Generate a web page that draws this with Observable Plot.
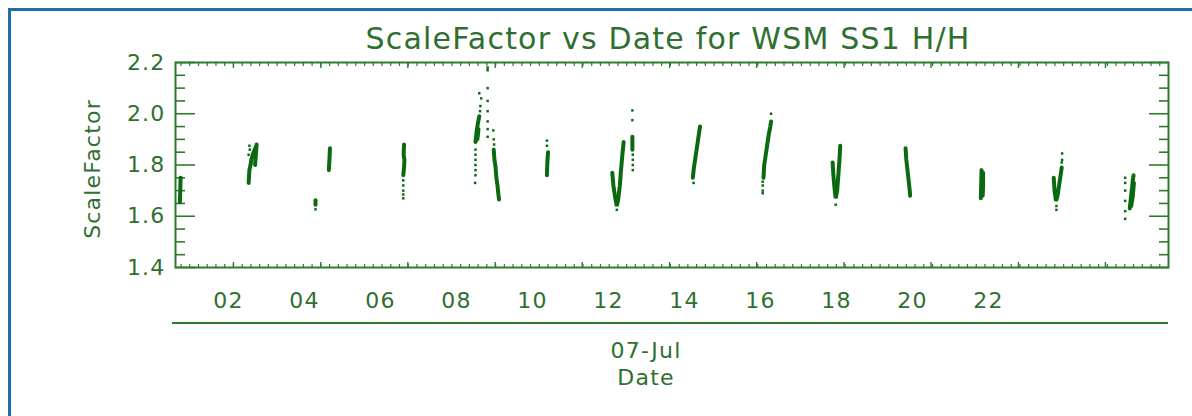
<!DOCTYPE html>
<html>
<head>
<meta charset="utf-8">
<script src="https://cdn.jsdelivr.net/npm/d3@7"></script>
<script src="https://cdn.jsdelivr.net/npm/@observablehq/plot@0.6"></script>
<style>
  html, body { margin: 0; padding: 0; background: #fff; }
  #wrap { position: relative; width: 1192px; height: 416px; overflow: hidden; }
  #wrap svg { position: absolute; left: 0; top: 0; }
  #border { position: absolute; left: 8px; top: 8px; right: -10px; bottom: -10px;
            border-top: 3px solid #1f6ea8; border-left: 3px solid #1f6ea8; pointer-events: none; }
</style>
</head>
<body>
<div id="wrap"><div id="border"></div></div>
<script>
// ---- Data (hours of 07-Jul, ScaleFactor) ----
const title = "ScaleFactor vs Date for WSM SS1 H/H";
const yTitle = "ScaleFactor";
const xDateLabel = "07-Jul";
const xTitle = "Date";

// dense streaks of each pass: [pass, hour, scale factor]
const streakPoints = [
  ["A", 0.72, 1.655], ["A", 0.73, 1.70], ["A", 0.74, 1.75],
  ["B1", 2.53, 1.73], ["B1", 2.55, 1.78], ["B1", 2.58, 1.80], ["B1", 2.60, 1.82], ["B1", 2.66, 1.85], ["B1", 2.72, 1.87],
  ["B2", 2.70, 1.80], ["B2", 2.73, 1.86], ["B2", 2.74, 1.88],
  ["C1", 4.64, 1.78], ["C1", 4.66, 1.83], ["C1", 4.67, 1.865],
  ["C2", 4.29, 1.645], ["C2", 4.29, 1.662],
  ["D", 6.60, 1.76], ["D", 6.62, 1.79], ["D", 6.63, 1.82], ["D", 6.61, 1.84], ["D", 6.62, 1.88],
  ["E", 8.50, 1.89], ["E", 8.53, 1.93], ["E", 8.56, 1.96], ["E", 8.60, 1.99],
  ["E2", 8.55, 1.90], ["E2", 8.58, 1.94],
  ["F", 8.98, 1.86], ["F", 9.00, 1.82], ["F", 9.03, 1.79], ["F", 9.05, 1.75], ["F", 9.08, 1.72], ["F", 9.10, 1.69], ["F", 9.12, 1.665],
  ["G", 10.38, 1.76], ["G", 10.39, 1.80], ["G", 10.40, 1.83], ["G", 10.41, 1.85],
  ["H", 12.10, 1.77], ["H", 12.13, 1.72], ["H", 12.18, 1.67], ["H", 12.22, 1.64], ["H", 12.26, 1.67], ["H", 12.30, 1.72], ["H", 12.33, 1.78], ["H", 12.36, 1.83], ["H", 12.40, 1.89],
  ["H2", 12.63, 1.86], ["H2", 12.63, 1.91],
  ["I", 14.22, 1.75], ["I", 14.25, 1.79], ["I", 14.30, 1.84], ["I", 14.34, 1.88], ["I", 14.38, 1.92], ["I", 14.41, 1.95],
  ["J", 16.08, 1.75], ["J", 16.10, 1.80], ["J", 16.14, 1.84], ["J", 16.18, 1.88], ["J", 16.22, 1.92], ["J", 16.26, 1.95], ["J", 16.28, 1.97],
  ["K", 17.90, 1.81], ["K", 17.92, 1.76], ["K", 17.95, 1.71], ["K", 17.98, 1.67], ["K", 18.02, 1.70], ["K", 18.05, 1.76], ["K", 18.08, 1.82], ["K", 18.10, 1.875],
  ["L", 19.82, 1.865], ["L", 19.84, 1.82], ["L", 19.87, 1.78], ["L", 19.90, 1.74], ["L", 19.93, 1.70], ["L", 19.94, 1.68],
  ["M1", 21.80, 1.67], ["M1", 21.81, 1.72], ["M1", 21.82, 1.78],
  ["M2", 21.85, 1.68], ["M2", 21.86, 1.72], ["M2", 21.86, 1.77],
  ["N", 23.72, 1.75], ["N", 23.74, 1.70], ["N", 23.78, 1.66], ["N", 23.82, 1.68], ["N", 23.86, 1.72], ["N", 23.90, 1.76], ["N", 23.93, 1.79],
  ["O1", 25.72, 1.63], ["O1", 25.75, 1.67], ["O1", 25.78, 1.71], ["O1", 25.80, 1.74], ["O1", 25.82, 1.76],
  ["O2", 25.76, 1.64], ["O2", 25.80, 1.68], ["O2", 25.83, 1.73]
];

// scattered single samples: [hour, scale factor]
const dotPoints = [
  [2.55, 1.875], [2.56, 1.86], [2.53, 1.84],
  [4.29, 1.627],
  [6.60, 1.74], [6.60, 1.72], [6.60, 1.70], [6.60, 1.685], [6.60, 1.67],
  [8.50, 1.86], [8.50, 1.84], [8.50, 1.82], [8.50, 1.80], [8.50, 1.78], [8.50, 1.76], [8.49, 1.73],
  [8.60, 2.08], [8.65, 2.06], [8.62, 2.01], [8.63, 2.03],
  [8.82, 2.17], [8.82, 2.18], [8.82, 2.10], [8.82, 2.05], [8.82, 2.01], [8.82, 1.97], [8.82, 1.94], [8.82, 1.91],
  [8.97, 1.935], [8.98, 1.90], [8.99, 1.88],
  [10.38, 1.875], [10.38, 1.895],
  [12.22, 1.625],
  [12.63, 2.013], [12.63, 1.975], [12.64, 1.84], [12.64, 1.82], [12.64, 1.80], [12.64, 1.78],
  [14.24, 1.73],
  [16.28, 2.00], [16.06, 1.735], [16.06, 1.72], [16.06, 1.70], [16.06, 1.69],
  [17.98, 1.645],
  [23.94, 1.845], [23.94, 1.82], [23.93, 1.81], [23.79, 1.625], [23.79, 1.64],
  [25.60, 1.59], [25.60, 1.62], [25.60, 1.66], [25.60, 1.70], [25.60, 1.73], [25.60, 1.75]
];

// axis ticks
const yMajor = [1.4, 1.6, 1.8, 2.0, 2.2];
const yMinor = [1.45, 1.5, 1.55, 1.65, 1.7, 1.75, 1.85, 1.9, 1.95, 2.05, 2.1, 2.15];
const xFrameMajor = [2.13, 4.43, 6.72, 9.02, 11.31, 13.61, 15.90, 18.20, 20.49, 22.79, 25.08];
const xLabelTicks = [2, 4, 6, 8, 10, 12, 14, 16, 18, 20, 22];
const xDomain = [0.605, 26.74];
const yDomain = [1.4, 2.2];

// ---- Drawing ----
const frameColor = "#2e7b2e";
const textColor = "#2f6f2f";
const dataColor = "#0b6a10";
const step = (xFrameMajor[1] - xFrameMajor[0]) / 10;
const xFrameMinor = d3.range(-30, 120).map(i => xFrameMajor[0] + i * step)
  .filter(h => h > xDomain[0] && h < xDomain[1]);
const blank = () => "";

const plot = Plot.plot({
  width: 1192,
  height: 416,
  marginLeft: 175,
  marginRight: 24,
  marginTop: 62,
  marginBottom: 149,
  style: { fontFamily: "DejaVu Sans", background: "transparent" },
  x: { domain: xDomain },
  y: { domain: yDomain },
  marks: [
    // frame ticks (inward)
    Plot.axisY(yMajor, { anchor: "left", tickSize: -20, tickFormat: blank, label: null, color: frameColor, strokeWidth: 1.6 }),
    Plot.axisY(yMinor, { anchor: "left", tickSize: -10, tickFormat: blank, label: null, color: frameColor, strokeWidth: 1.6 }),
    Plot.axisY(yMajor, { anchor: "right", tickSize: -20, tickFormat: blank, label: null, color: frameColor, strokeWidth: 1.6 }),
    Plot.axisY(yMinor, { anchor: "right", tickSize: -10, tickFormat: blank, label: null, color: frameColor, strokeWidth: 1.6 }),
    Plot.axisX(xFrameMajor, { anchor: "bottom", tickSize: -5, tickFormat: blank, label: null, color: frameColor, strokeWidth: 1.4 }),
    Plot.axisX(xFrameMinor, { anchor: "bottom", tickSize: -3, tickFormat: blank, label: null, color: frameColor, strokeWidth: 1.2 }),
    Plot.axisX(xFrameMajor, { anchor: "top", tickSize: -5, tickFormat: blank, label: null, color: frameColor, strokeWidth: 1.4 }),
    Plot.axisX(xFrameMinor, { anchor: "top", tickSize: -3, tickFormat: blank, label: null, color: frameColor, strokeWidth: 1.2 }),
    // tick labels
    Plot.axisY(yMajor, { anchor: "left", tickSize: 0, tickPadding: 10, tickFormat: d3.format(".1f"), label: null, color: textColor, fontSize: 22 }),
    Plot.axisX(xLabelTicks, { anchor: "bottom", tickSize: 0, tickPadding: 25, tickFormat: d3.format("02d"), label: null, color: textColor, fontSize: 22 }),
    Plot.frame({ stroke: frameColor, strokeWidth: 2 }),
    // data
    Plot.line(streakPoints, { x: d => d[1], y: d => d[2], z: d => d[0], stroke: dataColor, strokeWidth: 4, strokeLinejoin: "miter" }),
    Plot.dot(dotPoints, { x: d => d[0], y: d => d[1], r: 1.4, symbol: "square", fill: dataColor, stroke: null }),
    // texts
    Plot.text([title], { ariaLabel: "title", frameAnchor: "top", lineAnchor: "middle", textAnchor: "middle", dy: -23, dx: -4, fontSize: 30, fill: textColor, text: d => d }),
    Plot.text([yTitle], { frameAnchor: "left", lineAnchor: "middle", textAnchor: "middle", dx: -83, dy: 4, rotate: -90, fontSize: 22, fill: textColor, text: d => d }),
    Plot.text([xDateLabel], { frameAnchor: "bottom", lineAnchor: "middle", textAnchor: "middle", dy: 83, dx: -26, fontSize: 22, fill: textColor, text: d => d }),
    Plot.text([xTitle], { frameAnchor: "bottom", lineAnchor: "middle", textAnchor: "middle", dy: 110, dx: -26, fontSize: 22, fill: textColor, text: d => d })
  ]
});

// wider letter spacing, like the vector font of the original
d3.select(plot).selectAll("text").attr("letter-spacing", "1.2px");
d3.select(plot).selectAll("g[aria-label=title] text").attr("letter-spacing", "2.9px");

// second (label) axis line below the frame
const xr = plot.scale("x").range;
const yr = plot.scale("y").range;
d3.select(plot).append("line")
  .attr("x1", xr[0] - 3).attr("x2", xr[1])
  .attr("y1", yr[0] + 56).attr("y2", yr[0] + 56)
  .attr("stroke", frameColor).attr("stroke-width", 2);

document.getElementById("wrap").prepend(plot);
</script>
</body>
</html>
